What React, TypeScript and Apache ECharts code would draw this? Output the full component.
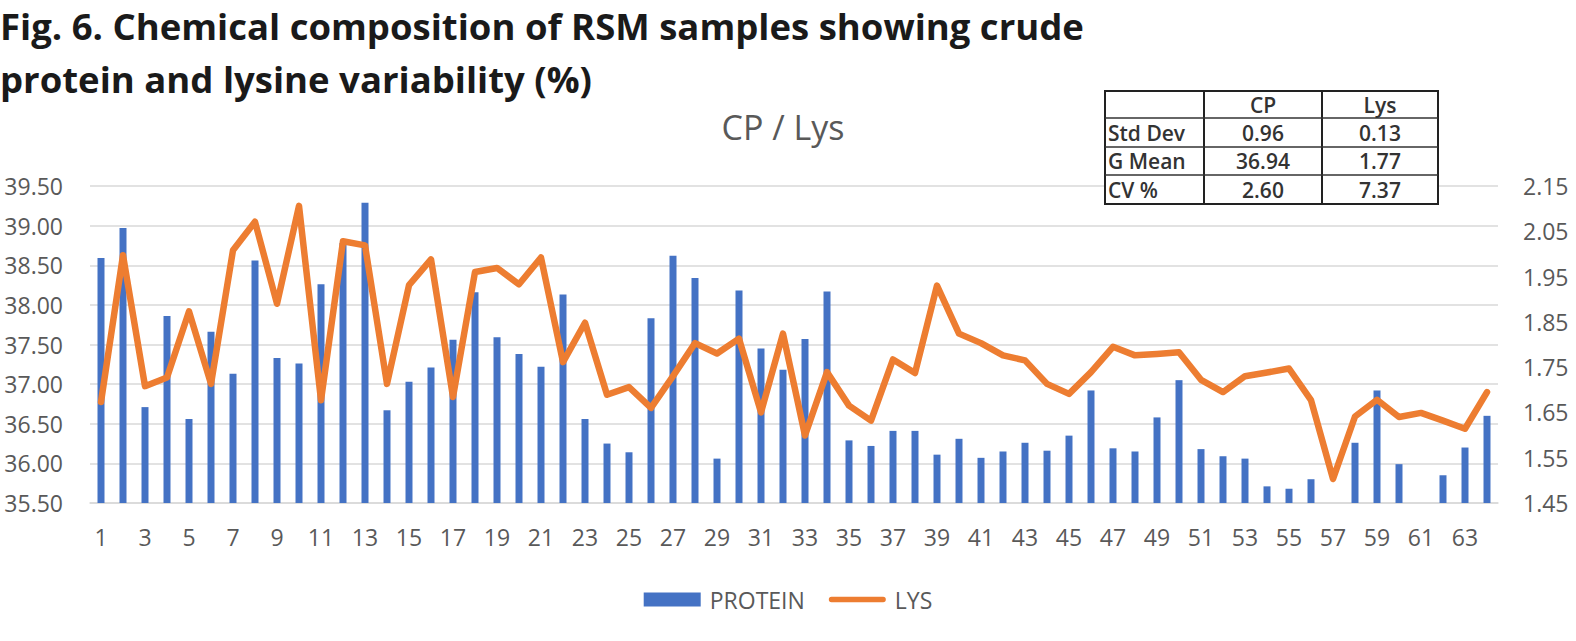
import React, { useEffect, useRef } from "react";
import * as echarts from "echarts";

const categories: string[] = Array.from({ length: 64 }, (_, i) => String(i + 1));

const protein: (number | null)[] = [
  38.59, 38.97, 36.71, 37.86, 36.56, 37.66, 37.13, 38.56, 37.33, 37.26,
  38.26, 38.78, 39.29, 36.67, 37.03, 37.21, 37.56, 38.16, 37.59, 37.38,
  37.22, 38.13, 36.56, 36.25, 36.14, 37.83, 38.62, 38.34, 36.06, 38.18,
  37.45, 37.18, 37.57, 38.17, 36.29, 36.22, 36.41, 36.41, 36.11, 36.31,
  36.07, 36.15, 36.26, 36.16, 36.35, 36.92, 36.19, 36.15, 36.58, 37.05,
  36.18, 36.09, 36.06, 35.71, 35.68, 35.8, 35.47, 36.26, 36.92, 35.99,
  null, 35.85, 36.2, 36.6,
];

const lys: number[] = [
  1.673, 1.997, 1.708, 1.727, 1.873, 1.713, 2.008, 2.071, 1.89, 2.106,
  1.677, 2.028, 2.019, 1.713, 1.931, 1.988, 1.684, 1.96, 1.969, 1.933,
  1.992, 1.761, 1.848, 1.689, 1.706, 1.66, 1.73, 1.803, 1.78, 1.813,
  1.65, 1.824, 1.599, 1.739, 1.665, 1.632, 1.767, 1.737, 1.93, 1.824,
  1.803, 1.776, 1.765, 1.713, 1.691, 1.739, 1.795, 1.776, 1.779, 1.783,
  1.722, 1.695, 1.73, 1.738, 1.747, 1.677, 1.503, 1.641, 1.678, 1.64,
  1.649, 1.632, 1.614, 1.695,
];

const titleLines: string[] = [
  "Fig. 6. Chemical composition of RSM samples showing crude",
  "protein and lysine variability (%)",
];
const chartTitle = "CP / Lys";
const seriesNames: string[] = ["PROTEIN", "LYS"];

const tableHeader: string[] = ["", "CP", "Lys"];
const tableRows: string[][] = [
  ["Std Dev", "0.96", "0.13"],
  ["G Mean", "36.94", "1.77"],
  ["CV %", "2.60", "7.37"],
];

const FONT = "'Open Sans', 'Noto Sans', sans-serif";
const BLUE = "#4472C4";
const ORANGE = "#ED7D31";
const GRAY = "#595959";
const GRID = "#d9d9d9";

const LINE_ICON =
  "path://M0,0 M64,14 M3,4 L61,4 A3,3 0 0 1 61,10 L3,10 A3,3 0 0 1 3,4 Z";

function buildTable(): any[] {
  const colX = [1105, 1204, 1322, 1438];
  const rowY = [91, 118, 147, 175, 204];
  const els: any[] = [];
  els.push({
    type: "rect",
    shape: { x: colX[0], y: rowY[0], width: colX[3] - colX[0], height: rowY[4] - rowY[0] },
    style: { fill: "#ffffff", stroke: "#222222", lineWidth: 2 },
    z: 10,
  });
  for (let i = 1; i < colX.length - 1; i++) {
    els.push({
      type: "line",
      shape: { x1: colX[i], y1: rowY[0], x2: colX[i], y2: rowY[4] },
      style: { stroke: "#222222", lineWidth: 2 },
      z: 11,
    });
  }
  for (let j = 1; j < rowY.length - 1; j++) {
    els.push({
      type: "line",
      shape: { x1: colX[0], y1: rowY[j], x2: colX[3], y2: rowY[j] },
      style: { stroke: "#333333", lineWidth: 1.5 },
      z: 11,
    });
  }
  const allRows = [tableHeader, ...tableRows];
  allRows.forEach((row, r) => {
    row.forEach((cell, c) => {
      if (!cell) return;
      const cy = (rowY[r] + rowY[r + 1]) / 2;
      const isFirst = c === 0;
      els.push({
        type: "text",
        x: isFirst ? colX[0] + 3 : (colX[c] + colX[c + 1]) / 2,
        y: cy,
        z: 12,
        style: {
          text: cell,
          fill: "#333333",
          font: `600 21px ${FONT}`,
          textAlign: isFirst ? "left" : "center",
          textVerticalAlign: "middle",
        },
      });
    });
  });
  return els;
}

export default function App() {
  const ref = useRef<HTMLDivElement>(null);

  useEffect(() => {
    if (!ref.current) return;
    const chart = echarts.init(ref.current, undefined, { renderer: "svg" });
    const option: any = {
      animation: false,
      backgroundColor: "#ffffff",
      textStyle: { fontFamily: FONT },
      grid: { left: 90, right: 78, top: 186, bottom: 138 },
      legend: {
        top: 583,
        left: "center",
        itemWidth: 57,
        itemHeight: 14,
        itemGap: 24,
        textStyle: { fontSize: 23, color: GRAY, fontFamily: FONT, padding: [0, 0, 0, 4] },
        data: [
          { name: seriesNames[0], icon: "rect" },
          { name: seriesNames[1], icon: LINE_ICON },
        ],
      },
      xAxis: {
        type: "category",
        data: categories,
        boundaryGap: true,
        axisTick: { show: false },
        axisLine: { lineStyle: { color: GRID, width: 1.5 } },
        axisLabel: { interval: 1, fontSize: 23, color: GRAY, margin: 22, fontFamily: FONT },
      },
      yAxis: [
        {
          type: "value",
          min: 35.5,
          max: 39.5,
          interval: 0.5,
          axisLine: { show: false },
          axisTick: { show: false },
          axisLabel: {
            fontSize: 23,
            color: GRAY,
            margin: 27,
            fontFamily: FONT,
            formatter: (v: number) => v.toFixed(2),
          },
          splitLine: { lineStyle: { color: GRID, width: 1.5 } },
        },
        {
          type: "value",
          min: 1.45,
          max: 2.15,
          interval: 0.1,
          position: "right",
          axisLine: { show: false },
          axisTick: { show: false },
          axisLabel: {
            fontSize: 23,
            color: GRAY,
            margin: 25,
            fontFamily: FONT,
            formatter: (v: number) => v.toFixed(2),
          },
          splitLine: { show: false },
        },
      ],
      series: [
        {
          name: seriesNames[0],
          type: "bar",
          data: protein,
          yAxisIndex: 0,
          barWidth: 7,
          itemStyle: { color: BLUE },
        },
        {
          name: seriesNames[1],
          type: "line",
          data: lys,
          yAxisIndex: 1,
          symbol: "none",
          lineStyle: { color: ORANGE, width: 6.5, cap: "round", join: "round" },
          itemStyle: { color: ORANGE },
          z: 3,
        },
      ],
      graphic: [
        {
          type: "text",
          x: 0,
          y: 26,
          style: {
            text: titleLines[0],
            fill: "#1a1a1a",
            font: `bold 36.5px ${FONT}`,
            textAlign: "left",
            textVerticalAlign: "middle",
          },
        },
        {
          type: "text",
          x: 0,
          y: 79,
          style: {
            text: titleLines[1],
            fill: "#1a1a1a",
            font: `bold 36.5px ${FONT}`,
            textAlign: "left",
            textVerticalAlign: "middle",
          },
        },
        {
          type: "text",
          x: 783,
          y: 127,
          style: {
            text: chartTitle,
            fill: GRAY,
            font: `34px ${FONT}`,
            textAlign: "center",
            textVerticalAlign: "middle",
          },
        },
        ...buildTable(),
      ],
    };
    chart.setOption(option);
    return () => chart.dispose();
  }, []);

  return (
    <div
      ref={ref}
      style={{ position: "fixed", left: 0, top: 0, width: 1576, height: 641, background: "#fff" }}
    />
  );
}
